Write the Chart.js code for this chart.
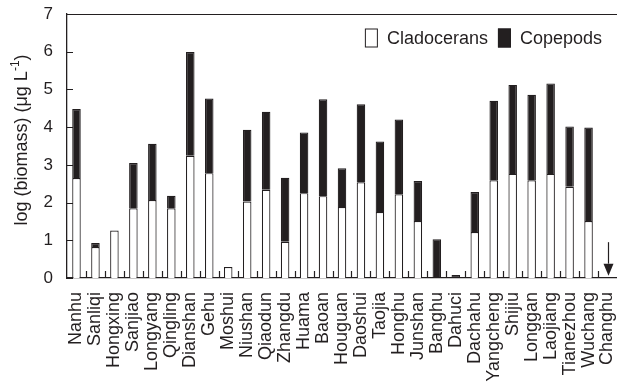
<!DOCTYPE html>
<html>
<head>
<meta charset="utf-8">
<script src="https://cdn.jsdelivr.net/npm/chart.js@4/dist/chart.umd.min.js"></script>
<style>
  html, body { margin: 0; padding: 0; background: #fff; }
  #wrap { width: 617px; height: 387px; }
</style>
</head>
<body>
<div id="wrap"><canvas id="c" width="617" height="387"></canvas></div>
<script>
// Lakes, in the order they are plotted
const lakes = ['Nanhu','Sanliqi','Hongxing','Sanjiao','Longyang','Qingling','Dianshan','Gehu','Moshui',
  'Niushan','Qiaodun','Zhangdu','Huama','Baoan','Houguan','Daoshui','Taojia','Honghu','Junshan',
  'Banghu','Dahuci','Dachahu','Yangcheng','Shijiu','Longgan','Laojiang','Tianezhou','Wuchang','Changhu'];

// log biomass (µg L-1); null = not found
const cladocerans = [2.65, 0.82, 1.26, 1.85, 2.07, 1.85, 3.24, 2.78, 0.29,
  2.03, 2.34, 0.96, 2.25, 2.17, 1.88, 2.54, 1.75, 2.22, 1.51,
  null, null, 1.22, 2.59, 2.76, 2.59, 2.76, 2.42, 1.51, null];
const copepods = [1.83, 0.11, null, 1.20, 1.49, 0.33, 2.75, 1.98, null,
  1.90, 2.07, 1.70, 1.61, 2.57, 1.03, 2.07, 1.87, 1.98, 1.06,
  1.03, 0.08, 1.06, 2.11, 2.36, 2.27, 2.40, 1.60, 2.48, null];

// y-axis ticks
const yTicks = [0, 1, 2, 3, 4, 5, 6, 7];

// lake marked as below detection (arrow instead of a bar)
const belowDetection = ['Changhu'];

const INK = '#231f20';
const FONT = '"Liberation Sans", Arial, sans-serif';

const frame = {
  id: 'frame',
  afterDraw(chart) {
    const { ctx, chartArea: a, scales: { x, y } } = chart;
    ctx.save();
    ctx.strokeStyle = INK;
    ctx.lineWidth = 1.2;
    // top border
    ctx.beginPath();
    ctx.moveTo(a.left, a.top + 0.5);
    ctx.lineTo(a.right, a.top + 0.5);
    ctx.stroke();
    // inward y ticks
    ctx.beginPath();
    yTicks.forEach(v => {
      const py = Math.round(y.getPixelForValue(v)) + 0.5;
      ctx.moveTo(a.left, py);
      ctx.lineTo(a.left + 6, py);
    });
    ctx.stroke();
    // inward x ticks between categories
    ctx.beginPath();
    for (let i = 1; i < lakes.length; i++) {
      const px = Math.round((x.getPixelForValue(i - 1) + x.getPixelForValue(i)) / 2) + 0.5;
      ctx.moveTo(px, a.bottom);
      ctx.lineTo(px, a.bottom - 7);
    }
    ctx.stroke();

    // arrows for lakes below detection
    belowDetection.forEach(name => {
      const px = Math.round(x.getPixelForValue(lakes.indexOf(name))) + 0.5;
      const yTop = y.getPixelForValue(0.95);
      const yHead = y.getPixelForValue(0.38);
      const yTip = y.getPixelForValue(0.06);
      ctx.fillStyle = INK;
      ctx.lineWidth = 1.2;
      ctx.beginPath();
      ctx.moveTo(px, yTop);
      ctx.lineTo(px, yHead);
      ctx.stroke();
      ctx.beginPath();
      ctx.moveTo(px - 5, yHead);
      ctx.lineTo(px + 5, yHead);
      ctx.lineTo(px, yTip);
      ctx.closePath();
      ctx.fill();
    });

    // legend, laid out from the right edge of the plot
    const font = '18px ' + FONT;
    ctx.font = font;
    ctx.textBaseline = 'middle';
    ctx.textAlign = 'left';
    const ly = a.top + 24;
    const items = chart.data.datasets.map(d => ({ label: d.label, fill: d.backgroundColor,
      w: ctx.measureText(d.label).width }));
    let lx = a.right - 15;
    for (let i = items.length - 1; i >= 0; i--) {
      lx -= items[i].w + 9 + 13;
      items[i].x = lx;
      lx -= 10;
    }
    items.forEach(it => {
      ctx.fillStyle = it.fill;
      ctx.fillRect(it.x, ly - 9.5, 13, 19);
      ctx.lineWidth = 1;
      ctx.strokeStyle = INK;
      ctx.strokeRect(it.x + 0.5, ly - 9, 12, 18);
      ctx.fillStyle = INK;
      ctx.fillText(it.label, it.x + 13 + 9, ly + 1);
    });

    // y-axis title with superscript
    const cy = (a.top + a.bottom) / 2 - 6;
    ctx.translate(22, cy);
    ctx.rotate(-Math.PI / 2);
    ctx.fillStyle = INK;
    ctx.textBaseline = 'middle';
    const main = '18px ' + FONT, sup = '12px ' + FONT;
    const p1 = 'log (biomass) (\u03bcg L', p2 = '-1', p3 = ')';
    ctx.font = main; const w1 = ctx.measureText(p1).width, w3 = ctx.measureText(p3).width;
    ctx.font = sup; const w2 = ctx.measureText(p2).width;
    let sx = -(w1 + w2 + w3) / 2;
    ctx.font = main; ctx.textAlign = 'left';
    ctx.fillText(p1, sx, 0); sx += w1;
    ctx.font = sup; ctx.fillText(p2, sx, -6); sx += w2;
    ctx.font = main; ctx.fillText(p3, sx, 0);
    ctx.restore();
  }
};

new Chart(document.getElementById('c'), {
  type: 'bar',
  data: {
    labels: lakes,
    datasets: [
      { label: 'Cladocerans', data: cladocerans, backgroundColor: '#ffffff', borderColor: INK,
        borderWidth: 1.2, borderSkipped: 'start' },
      { label: 'Copepods', data: copepods, backgroundColor: INK, borderColor: INK,
        borderWidth: 1.2, borderSkipped: 'start' }
    ]
  },
  options: {
    responsive: false,
    animation: false,
    layout: { padding: { top: 14, right: 0, left: 0, bottom: 0 } },
    datasets: { bar: { categoryPercentage: 1, barPercentage: 0.45 } },
    plugins: {
      legend: { display: false },
      tooltip: { enabled: false }
    },
    scales: {
      x: {
        stacked: true,
        grid: { display: false, drawTicks: false },
        border: { display: true, color: INK, width: 1.3 },
        ticks: { color: INK, font: { family: FONT, size: 18 }, minRotation: 90, maxRotation: 90,
          padding: 14, autoSkip: false },
        afterFit(s) { s.height = 109; s.paddingLeft = 0; s.paddingRight = 0; }
      },
      y: {
        stacked: true,
        min: 0, max: 7,
        afterBuildTicks(s) { s.ticks = yTicks.map(v => ({ value: v })); },
        grid: { display: false, drawTicks: false },
        border: { display: true, color: INK, width: 1.3 },
        ticks: { color: INK, font: { family: FONT, size: 17 }, padding: 14 },
        afterFit(s) { s.width = 67; s.paddingTop = 0; s.paddingBottom = 0; }
      }
    }
  },
  plugins: [frame]
});
</script>
</body>
</html>
